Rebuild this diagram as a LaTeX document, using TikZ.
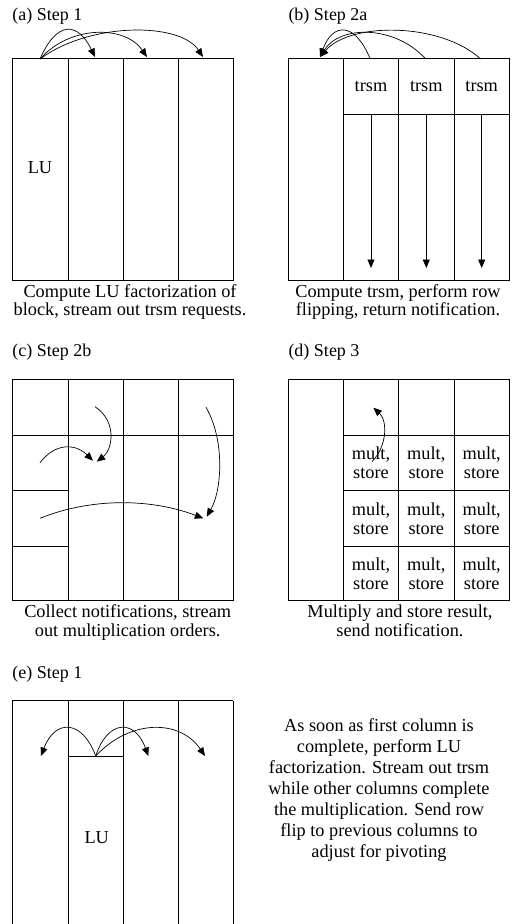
\documentclass[tikz,border=0pt]{standalone}
\usepackage{fontspec}
\setmainfont{Liberation Serif}
\usetikzlibrary{arrows.meta}
\begin{document}
\begin{tikzpicture}[x=1pt,y=-1pt,
  boxline/.style={line width=0.8pt},
  arr/.style={line width=0.7pt,-{Triangle[length=8.5pt,width=7pt]}},
  lbl/.style={inner sep=0pt,font=\fontsize{18.3}{18.3}\selectfont},
  cell/.style={inner sep=0pt,align=center,font=\fontsize{18.3}{19}\selectfont},
  capt/.style={inner sep=0pt,align=center,anchor=north,font=\fontsize{18.3}{18.3}\selectfont},
  ttl/.style={inner sep=0pt,anchor=base west,font=\fontsize{18}{18}\selectfont}]
\useasboundingbox (0,0) rectangle (516,924);

% titles
\node[ttl] (ta) at (12.3,20.7) {(a) Step 1};
\node[ttl] (tb) at (288.3,20.7) {(b) Step 2a};
\node[ttl] (tc) at (12.3,356) {(c) Step 2b};
\node[ttl] (td) at (288.3,356) {(d) Step 3};
\node[ttl] (te) at (12.3,678.3) {(e) Step 1};

% captions
\node[capt] (ca) at (130,284.2) {Compute LU factorization of\\block, stream out trsm requests.};
\node[capt] (cb) at (398,284.2) {Compute trsm, perform row\\flipping, return notification.};
\node[capt] (cc) at (127.7,604.9) {Collect notifications, stream\\out multiplication orders.};
\node[capt] (cd) at (400,604.9) {Multiply and store result,\\send notification.};
\node[capt,font=\fontsize{18.3}{21}\selectfont] (ce) at (379,718.2) {As soon as first column is\\complete, perform LU\\factorization. Stream out trsm\\while other columns complete\\the multiplication. Send row\\flip to previous columns to\\adjust for pivoting};

% ---------- (a)
\draw[boxline] (12.3,58.7) rectangle (233.3,280);
\draw[boxline] (68,58.7) -- (68,280) (123,58.7) -- (123,280) (178.3,58.7) -- (178.3,280);
\node[lbl] (lua) at (40,168) {LU};
\coordinate (a0) at (40,59);
\coordinate (a1) at (95,57);
\coordinate (a2) at (147,57);
\coordinate (a3) at (203,57);
\draw[arr] (a0) .. controls (57,20) and (78,22) .. (a1);
\draw[arr] (a0) .. controls (70,25) and (125,25) .. (a2);
\draw[arr] (a0) .. controls (90,22) and (180,22) .. (a3);

% ---------- (b)
\draw[boxline] (288.3,58.7) rectangle (509.3,280);
\draw[boxline] (343.3,58.7) -- (343.3,280) (398.7,58.7) -- (398.7,280) (454,58.7) -- (454,280);
\draw[boxline] (343.3,114.3) -- (509.3,114.3);
\node[lbl] (tr1) at (371,86) {trsm};
\node[lbl] (tr2) at (426.3,86) {trsm};
\node[lbl] (tr3) at (481.7,86) {trsm};
\coordinate (b0) at (320,57);
\coordinate (b1) at (370.3,59);
\coordinate (b2) at (425.7,59);
\coordinate (b3) at (480.7,59);
\draw[arr] (b1) .. controls (355,22) and (333,22) .. (b0);
\draw[arr] (b2) .. controls (395,25) and (340,25) .. (b0);
\draw[arr] (b3) .. controls (440,22) and (350,22) .. (b0);
\coordinate (v1s) at (371,114.3); \coordinate (v1e) at (371,268);
\coordinate (v2s) at (426.3,114.3); \coordinate (v2e) at (426.3,268);
\coordinate (v3s) at (481.7,114.3); \coordinate (v3e) at (481.7,268);
\draw[arr] (v1s) -- (v1e);
\draw[arr] (v2s) -- (v2e);
\draw[arr] (v3s) -- (v3e);

% ---------- (c)
\draw[boxline] (12.3,379) rectangle (233.3,600.7);
\draw[boxline] (68,379) -- (68,600.7) (123,379) -- (123,600.7) (178.3,379) -- (178.3,600.7);
\draw[boxline] (12.3,435) -- (233.3,435);
\draw[boxline] (12.3,490.7) -- (68,490.7) (12.3,546) -- (68,546);
\coordinate (c1s) at (95,406.7); \coordinate (c1e) at (96.7,461.7);
\coordinate (c2s) at (40,462.7); \coordinate (c2e) at (93,460.7);
\coordinate (c3s) at (40,518.3); \coordinate (c3e) at (203.3,518.3);
\coordinate (c4s) at (206,407.3); \coordinate (c4e) at (206.7,516.7);
\draw[arr] (c1s) .. controls (118,422) and (112,450) .. (c1e);
\draw[arr] (c2s) .. controls (55,443) and (75,443) .. (c2e);
\draw[arr] (c3s) .. controls (90,498) and (150,498) .. (c3e);
\draw[arr] (c4s) .. controls (225,440) and (222,490) .. (c4e);

% ---------- (d)
\draw[boxline] (288.3,379) rectangle (509.3,600.7);
\draw[boxline] (343.3,379) -- (343.3,600.7) (398.7,379) -- (398.7,600.7) (454,379) -- (454,600.7);
\draw[boxline] (343.3,435) -- (509.3,435) (343.3,490.7) -- (509.3,490.7) (343.3,546) -- (509.3,546);
\node[cell] (m11) at (371,462.9) {mult,\\store};
\node[cell] (m12) at (426.3,462.9) {mult,\\store};
\node[cell] (m13) at (481.7,462.9) {mult,\\store};
\node[cell] (m21) at (371,518.4) {mult,\\store};
\node[cell] (m22) at (426.3,518.4) {mult,\\store};
\node[cell] (m23) at (481.7,518.4) {mult,\\store};
\node[cell] (m31) at (371,573.4) {mult,\\store};
\node[cell] (m32) at (426.3,573.4) {mult,\\store};
\node[cell] (m33) at (481.7,573.4) {mult,\\store};
\coordinate (d1s) at (372,461.7); \coordinate (d1e) at (373.3,407.7);
\draw[arr] (d1s) .. controls (388,445) and (387,420) .. (d1e);

% ---------- (e)
\draw[boxline] (12.3,700.7) -- (233.3,700.7);
\draw[boxline] (12.3,700.7) -- (12.3,924) (68,700.7) -- (68,924) (123,700.7) -- (123,924) (178.3,700.7) -- (178.3,924) (233.3,700.7) -- (233.3,924);
\draw[boxline] (68,756) -- (123,756);
\node[lbl] (lue) at (96.7,838) {LU};
\coordinate (e0) at (95.7,756);
\coordinate (e1) at (41,756);
\coordinate (e2) at (148.3,756);
\coordinate (e3) at (205,756);
\draw[arr] (e0) .. controls (82,719) and (55,719) .. (e1);
\draw[arr] (e0) .. controls (108,719) and (135,719) .. (e2);
\draw[arr] (e0) .. controls (130,719) and (180,719) .. (e3);
\end{tikzpicture}
\end{document}
